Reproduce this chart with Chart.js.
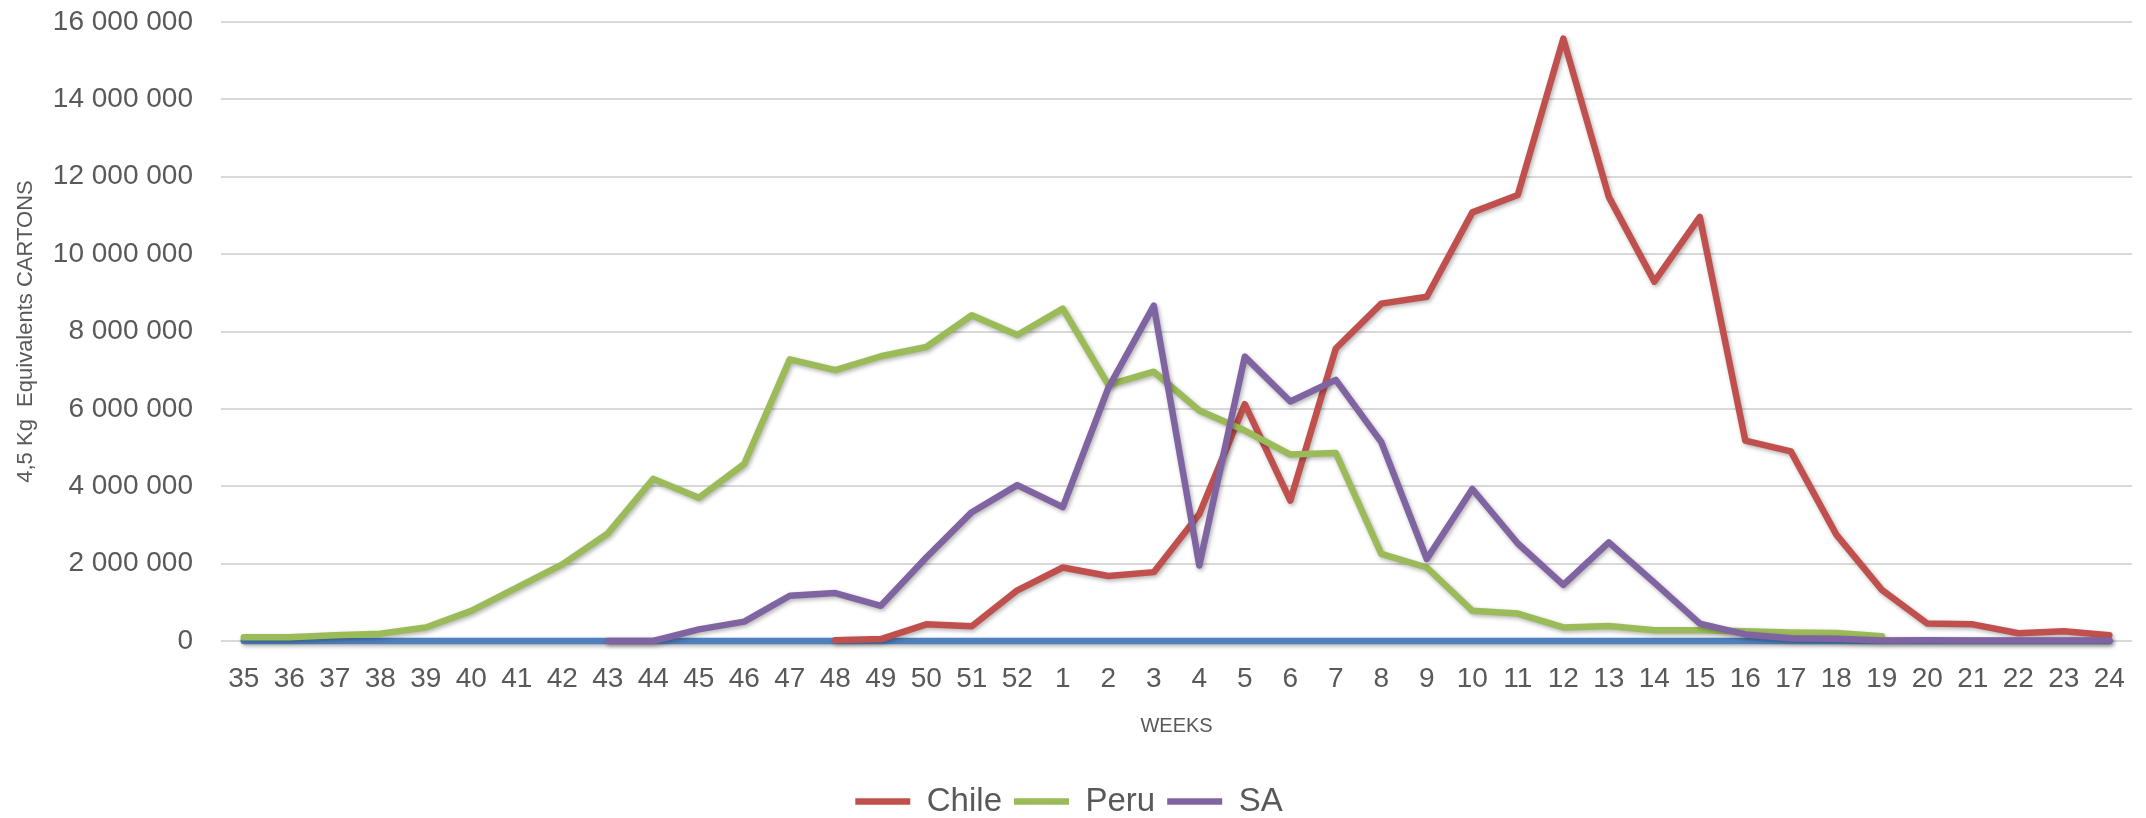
<!DOCTYPE html>
<html>
<head>
<meta charset="utf-8">
<title>Weekly shipments</title>
<script src="https://cdn.jsdelivr.net/npm/chart.js@4/dist/chart.umd.min.js"></script>
<style>
  html, body { margin: 0; padding: 0; background: #ffffff; }
  #wrap { width: 2146px; height: 818px; }
</style>
</head>
<body>
<div id="wrap"><canvas id="chart" width="2146" height="818"></canvas></div>
<script>
// Season weeks: 35..52 then 1..24
const weeks = ['35','36','37','38','39','40','41','42','43','44','45','46','47','48','49','50','51','52',
               '1','2','3','4','5','6','7','8','9','10','11','12','13','14','15','16','17','18','19','20','21','22','23','24'];

// 4,5 kg equivalent cartons per week
const chile = [null, null, null, null, null, null, null, null, null, null, null, null, null,
               20000, 50000, 430000, 380000, 1310000,
               1900000, 1680000, 1780000, 3280000, 6120000, 3630000, 7560000, 8720000, 8900000,
               11080000, 11530000, 15570000, 11480000, 9290000, 10960000, 5180000, 4900000,
               2750000, 1320000, 450000, 430000, 200000, 250000, 150000];

const peru = [100000, 100000, 150000, 190000, 350000, 780000, 1380000, 1980000, 2780000, 4190000,
              3700000, 4580000, 7280000, 7000000, 7360000, 7600000, 8420000, 7910000,
              8590000, 6620000, 6960000, 5960000, 5440000, 4820000, 4860000, 2250000, 1900000,
              780000, 710000, 350000, 390000, 280000, 280000, 250000, 220000, 210000, 120000,
              null, null, null, null, null];

const sa = [null, null, null, null, null, null, null, null,
            0, 0, 300000, 500000, 1170000, 1240000, 910000, 2160000, 3330000, 4030000,
            3460000, 6540000, 8670000, 1950000, 7350000, 6190000, 6750000, 5140000, 2120000,
            3930000, 2520000, 1450000, 2550000, 1510000, 450000, 170000, 70000, 60000,
            10000, 20000, 10000, 10000, 10000, 10000];

const base = weeks.map(() => 0);

const yTicksMax = 16000000;
const yTicksStep = 2000000;

const textColor = '#595959';
const fmt = v => String(v).replace(/\B(?=(\d{3})+(?!\d))/g, ' ');

// soft drop shadow under each series line
const lineShadow = {
  id: 'lineShadow',
  beforeDatasetDraw(chart) {
    const ctx = chart.ctx;
    ctx.save();
    ctx.shadowColor = 'rgba(0,0,0,0.30)';
    ctx.shadowBlur = 4;
    ctx.shadowOffsetX = 1.5;
    ctx.shadowOffsetY = 2;
  },
  afterDatasetDraw(chart) {
    chart.ctx.restore();
  }
};

const lineStyle = {
  borderWidth: 6.5,
  pointRadius: 0,
  pointHoverRadius: 0,
  tension: 0,
  borderJoinStyle: 'round',
  borderCapStyle: 'round',
  fill: false,
  spanGaps: false,
  clip: false
};

new Chart(document.getElementById('chart'), {
  type: 'line',
  data: {
    labels: weeks,
    datasets: [
      Object.assign({ label: '', data: base, borderColor: '#4F81BD', backgroundColor: '#4F81BD', order: 4 }, lineStyle),
      Object.assign({ label: 'Chile', data: chile, borderColor: '#C0504D', backgroundColor: '#C0504D', order: 3 }, lineStyle),
      Object.assign({ label: 'Peru', data: peru, borderColor: '#9BBB59', backgroundColor: '#9BBB59', order: 2 }, lineStyle),
      Object.assign({ label: 'SA', data: sa, borderColor: '#8064A2', backgroundColor: '#8064A2', order: 1 }, lineStyle)
    ]
  },
  options: {
    responsive: false,
    devicePixelRatio: 1,
    animation: false,
    events: [],
    layout: { padding: { left: 0, right: 8, top: 22, bottom: -10 } },
    scales: {
      x: {
        offset: true,
        grid: { display: false, drawTicks: false },
        border: { display: false },
        ticks: {
          color: textColor,
          font: { family: 'Liberation Sans', size: 28 },
          padding: 21,
          maxRotation: 0,
          autoSkip: false
        },
        title: {
          display: true,
          text: 'WEEKS',
          color: textColor,
          font: { family: 'Liberation Sans', size: 20 },
          padding: { top: 0, bottom: 35 }
        },
        afterFit(scale) { scale.height = 132; }
      },
      y: {
        min: 0,
        max: yTicksMax,
        grid: { color: '#d9d9d9', lineWidth: 2, drawTicks: false },
        border: { display: false },
        ticks: {
          stepSize: yTicksStep,
          color: textColor,
          font: { family: 'Liberation Sans', size: 28 },
          padding: 28,
          callback: v => fmt(v)
        },
        title: {
          display: true,
          text: '4,5 Kg  Equivalents CARTONS',
          color: textColor,
          font: { family: 'Liberation Sans', size: 22 },
          padding: { top: 13, bottom: 0 }
        },
        afterFit(scale) {
          scale.width = 221;
          scale.paddingTop = 0;
        }
      }
    },
    plugins: {
      legend: {
        position: 'bottom',
        labels: {
          color: textColor,
          font: { family: 'Liberation Sans', size: 33 },
          usePointStyle: true,
          pointStyle: 'line',
          pointStyleWidth: 55,
          boxHeight: 33,
          padding: 12,
          sort: (a, b) => a.datasetIndex - b.datasetIndex,
          filter: item => item.text !== ''
        }
      },
      tooltip: { enabled: false }
    }
  },
  plugins: [lineShadow]
});
</script>
</body>
</html>
